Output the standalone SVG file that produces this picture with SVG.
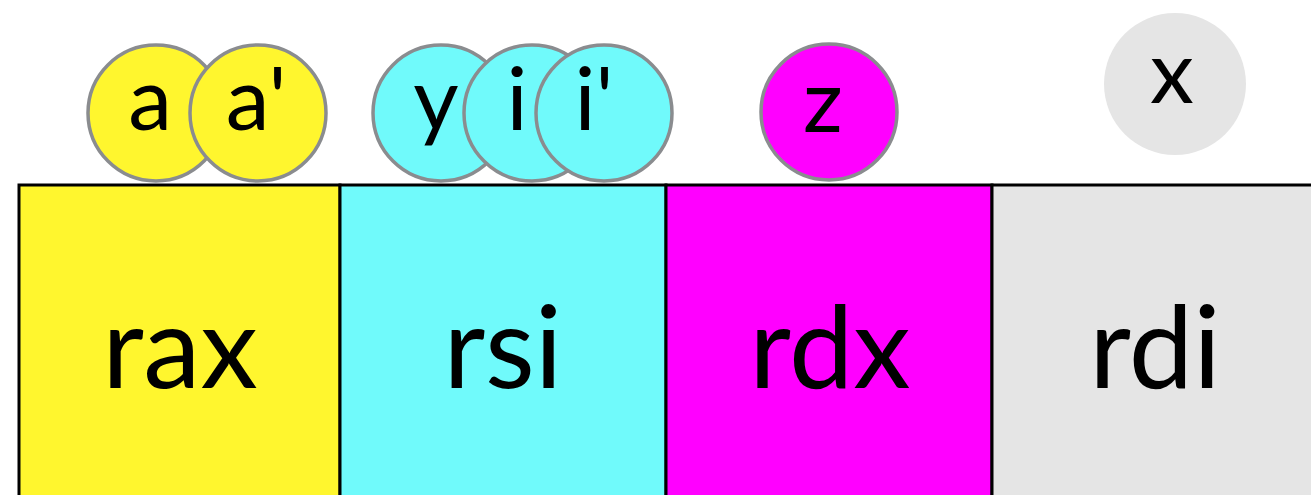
<svg xmlns="http://www.w3.org/2000/svg" width="1311" height="495" viewBox="0 0 1311 495">
<style>
.reg{stroke:#000;stroke-width:3}
.lbl{font-family:Lato,"Liberation Sans",sans-serif;font-size:115px;fill:#000;text-anchor:middle}
.c{stroke:#8a8c8f;stroke-width:3.5}
.cl{font-family:Lato,"Liberation Sans",sans-serif;font-size:88px;fill:#000;text-anchor:middle}
</style>
<rect width="1311" height="495" fill="#fff"/>
<g id="rax"><rect class="reg" x="19" y="185" width="321" height="320" fill="#fff62e"/><text class="lbl" x="180" y="388">rax</text></g>
<g id="rsi"><rect class="reg" x="340" y="185" width="326" height="320" fill="#70fafb"/><text class="lbl" x="503" y="388">rsi</text></g>
<g id="rdx"><rect class="reg" x="666" y="185" width="326" height="320" fill="#ff00ff"/><text class="lbl" x="830" y="388">rdx</text></g>
<g id="rdi"><rect class="reg" x="992" y="185" width="330" height="320" fill="#e5e5e5"/><text class="lbl" x="1155" y="388">rdi</text></g>
<g id="a"><circle class="c" cx="156" cy="113" r="68" fill="#fff62e"/><text class="cl" x="150" y="130">a</text></g>
<g id="a2"><circle class="c" cx="258" cy="113" r="68" fill="#fff62e"/><text class="cl" x="256" y="130">a'</text></g>
<g id="y"><circle class="c" cx="441" cy="113" r="68" fill="#70fafb" stroke="#7e7c92"/><text class="cl" x="436" y="130">y</text></g>
<g id="i"><circle class="c" cx="532" cy="113" r="68" fill="#70fafb"/><text class="cl" x="517" y="130">i</text></g>
<g id="i2"><circle class="c" cx="604" cy="113" r="68" fill="#70fafb"/><text class="cl" x="594" y="130">i'</text></g>
<g id="z"><circle class="c" cx="829" cy="112" r="68" fill="#ff00ff"/><text class="cl" x="823" y="132">z</text></g>
<g id="x"><circle cx="1175" cy="84" r="71" fill="#e5e5e5"/><text class="cl" x="1172" y="103">x</text></g>
<g id="connectors"/>
</svg>
